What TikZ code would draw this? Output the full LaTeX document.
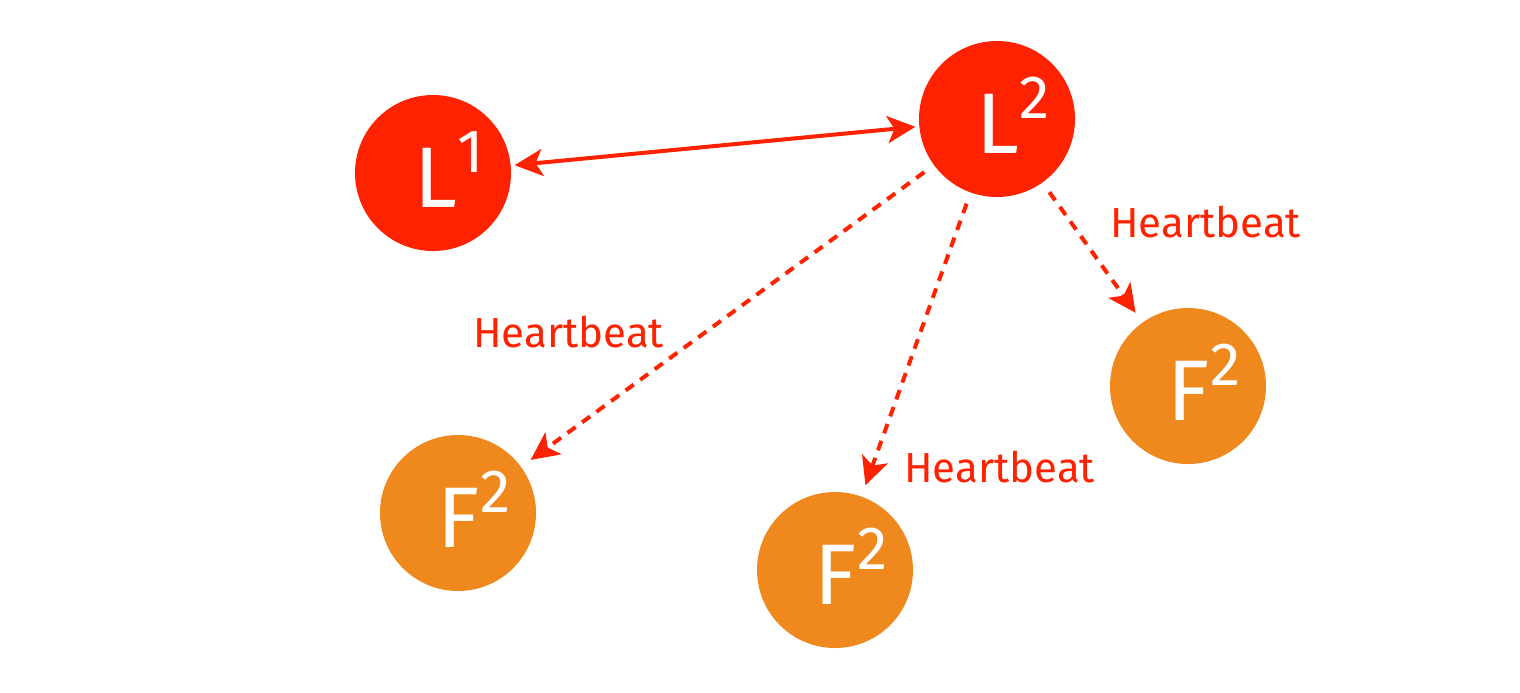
\documentclass[tikz,border=0pt]{standalone}
\usepackage{fontspec}
\setmainfont{Fira Sans}
\usetikzlibrary{arrows.meta}
\definecolor{lred}{RGB}{255,34,0}
\definecolor{forange}{RGB}{239,137,30}
\newcommand{\suplab}[2]{#1\raisebox{17.5pt}{\fontsize{30.5pt}{30.5pt}\selectfont #2}}
\begin{document}
\begin{tikzpicture}[x=0.5pt,y=-0.5pt,
  lnode/.style={circle,fill=lred,minimum size=78pt,inner sep=0pt,outer sep=0pt},
  fnode/.style={circle,fill=forange,minimum size=78pt,inner sep=0pt,outer sep=0pt},
  lab/.style={text=white,font=\fontsize{43pt}{43pt}\selectfont,anchor=base,inner sep=0pt},
  hb/.style={text=lred,font=\fontsize{21pt}{21pt}\selectfont,anchor=base west,inner sep=0pt},
  tip/.tip={Stealth[length=14pt,width=13.5pt,inset=3.5pt]},
  link/.style={draw=lred,line width=2pt,tip-tip,shorten <=2pt,shorten >=2pt},
  hbarrow/.style={draw=lred,line width=2pt,dash pattern=on 5pt off 4pt,-tip,shorten <=6pt,shorten >=6pt}]
\useasboundingbox (0,0) rectangle (1520,692);
\node[lnode] (L1) at (433,173) {};
\node[lnode] (L2) at (997,119) {};
\node[fnode] (FR) at (1188,386) {};
\node[fnode] (FL) at (458,513) {};
\node[fnode] (FM) at (835,570) {};
\node[lab] (tL1) at ([xshift=8pt,yshift=-17pt]L1.center) {\suplab{L}{1}};
\node[lab] (tL2) at ([xshift=8pt,yshift=-17pt]L2.center) {\suplab{L}{2}};
\node[lab] (tFR) at ([xshift=8pt,yshift=-17pt]FR.center) {\suplab{F}{2}};
\node[lab] (tFL) at ([xshift=8pt,yshift=-17pt]FL.center) {\suplab{F}{2}};
\node[lab] (tFM) at ([xshift=8pt,yshift=-17pt]FM.center) {\suplab{F}{2}};
\draw[link] (L1) -- (L2);
\draw[hbarrow] (L2) -- (FL);
\draw[hbarrow] (L2) -- (FM);
\draw[hbarrow] (L2) -- (FR);
\node[hb] (h1) at (1110,237) {Heartbeat};
\node[hb] (h2) at (473,347) {Heartbeat};
\node[hb] (h3) at (904,482) {Heartbeat};
\end{tikzpicture}
\end{document}
